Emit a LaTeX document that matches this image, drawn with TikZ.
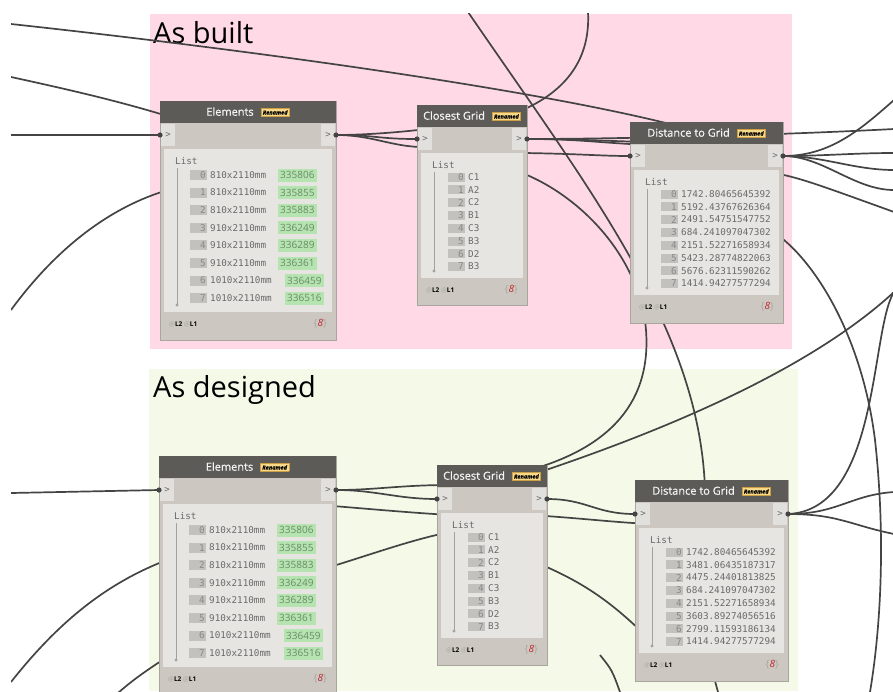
\documentclass[tikz,border=0pt]{standalone}
\usepackage{fontspec}
\setmainfont{Open Sans}
\newfontfamily\monof{DejaVu Sans Mono}
\newfontfamily\hdrf{Open Sans}[FakeBold=0.6]
\usetikzlibrary{calc}

\definecolor{pinkbg}{HTML}{FFDAE6}
\definecolor{greenbg}{HTML}{F5F9E8}
\definecolor{hdrc}{HTML}{5D5B58}
\definecolor{framec}{HTML}{CCC8C1}
\definecolor{framebd}{HTML}{A9A59F}
\definecolor{portc}{HTML}{E2E0DC}
\definecolor{panelc}{HTML}{E6E5E2}
\definecolor{idxc}{HTML}{C3C1BD}
\definecolor{idxtxt}{HTML}{8A8885}
\definecolor{valtxt}{HTML}{6A6A6A}
\definecolor{hilite}{HTML}{B6E4B0}
\definecolor{hilitetxt}{HTML}{6A8A66}
\definecolor{wirec}{HTML}{444444}
\definecolor{badgec}{HTML}{F8D98A}
\definecolor{badgebd}{HTML}{CC9F45}
\definecolor{cntred}{HTML}{C1272D}
\definecolor{footgray}{HTML}{A9A6A2}
\definecolor{hdrtxt}{HTML}{F4F4F4}
\definecolor{porttxt}{HTML}{6A6A6A}
\definecolor{listrulec}{HTML}{A3A19D}

\pgfdeclarelayer{back}
\pgfdeclarelayer{wirelayer}
\pgfsetlayers{back,wirelayer,main}

\newcommand\renamedbadge{\raisebox{0.2ex}{\setlength\fboxsep{1.6pt}\setlength\fboxrule{0.5pt}%
  \fcolorbox{badgebd}{badgec}{\fontsize{5.6}{5.6}\selectfont\bfseries\itshape\color{black}Renamed}}}

\tikzset{
  wire/.style={draw=wirec, line width=1.7pt},
  nodeframe/.style={draw=framebd, fill=framec, line width=0.8pt, inner sep=0pt, outer sep=0pt},
  hdrtext/.style={text=hdrtxt, font=\hdrf\fontsize{11}{12}\selectfont, inner sep=0pt},
  porttext/.style={text=porttxt, font=\monof\fontsize{9}{9}\selectfont, inner sep=0pt},
  listtext/.style={text=valtxt, font=\monof\fontsize{9.3}{10}\selectfont, inner sep=0pt},
  idxtext/.style={text=idxtxt, font=\monof\fontsize{9.3}{10}\selectfont, inner sep=0pt},
  hltext/.style={fill=hilite, text=hilitetxt, font=\fontsize{10}{11}\selectfont, inner xsep=2pt, inner ysep=0pt, minimum height=13pt},
  foottext/.style={inner sep=0pt, font=\fontsize{6.5}{7}\selectfont},
  cnttext/.style={inner sep=0pt, font=\fontsize{10}{11}\selectfont},
  grouptitle/.style={inner sep=0pt, font=\fontsize{29}{30}\selectfont, text=black},
  listrule/.style={draw=listrulec, line width=0.8pt},
  portdot/.style={fill=wirec},
}

% node skeleton: name, x, y, width, height, panel bottom, title
\newcommand\dynframe[7]{%
  \node[nodeframe, minimum width=#4pt, minimum height=#5pt, anchor=north west] (#1) at (#2,#3) {};
  \fill[hdrc] (#2,#3) rectangle ++(#4,22);
  \fill[portc] ({#2+1},{#3+23}) rectangle ++(14,22);
  \fill[portc] ({#2+#4-15},{#3+23}) rectangle ++(14,22);
  \node[porttext] at ({#2+8},{#3+34}) {>};
  \node[porttext] at ({#2+#4-8},{#3+34}) {>};
  \fill[panelc] ({#2+4},{#3+48}) rectangle ({#2+#4-4},#6);
  \draw[listrule] ({#2+17},{#3+67}) -- ({#2+17},{#6-7});
  \fill[listrulec] ({#2+17},{#6-7}) circle (1.6);
  \node[listtext, anchor=west] at ({#2+15},{#3+60}) {List};
  \node[hdrtext] at ({#2+#4/2},{#3+11}) {#7\hspace{7pt}\renamedbadge};
  \node[foottext, anchor=west] at ({#2+9},{#6+12}) {\textcolor{footgray}{@}\textbf{L2} \textcolor{footgray}{@}\textbf{L1}};
  \node[cnttext, anchor=east] at ({#2+#4-9},{#6+12}) {\textcolor{footgray}{\{}\textcolor{cntred}{\itshape 8}\textcolor{footgray}{\}}};
  \coordinate (#1-in) at (#2,{#3+34});
  \coordinate (#1-out) at ({#2+#4},{#3+34});
}

% element list rows with id highlights
\newcommand\elemrows[2]{%
  \foreach \k/\lbl/\val/\dx in {0/810x2110mm/335806/0,1/810x2110mm/335855/0,2/810x2110mm/335883/0,3/910x2110mm/336249/0,4/910x2110mm/336289/0,5/910x2110mm/336361/0,6/1010x2110mm/336459/7,7/1010x2110mm/336516/7}{
    \fill[idxc] ({#1+30},{#2+69+\k*17.6}) rectangle ++(17,10);
    \node[idxtext, anchor=east] at ({#1+46},{#2+74+\k*17.6}) {\k};
    \node[listtext, anchor=west] at ({#1+50},{#2+74+\k*17.6}) {\lbl};
    \node[hltext, anchor=west] at ({#1+118+\dx},{#2+74+\k*17.6}) {\val};
  }
}

% plain list rows
\newcommand\shortrows[3]{%
  \foreach \k/\val in {#3}{
    \fill[idxc] ({#1+31},{#2+67.5+\k*12.8}) rectangle ++(17,9);
    \node[idxtext, anchor=east] at ({#1+47},{#2+72+\k*12.8}) {\k};
    \node[listtext, anchor=west] at ({#1+51},{#2+72+\k*12.8}) {\val};
  }
}

\begin{document}
\begin{tikzpicture}[x=1pt,y=-1pt]
\useasboundingbox (0,0) rectangle (893,691);

% groups
\begin{pgfonlayer}{back}
  \fill[white] (0,0) rectangle (893,691);
  \fill[pinkbg] (150,14) rectangle (792,349);
  \fill[greenbg] (149,369) rectangle (798,691);
  \node[grouptitle, anchor=base west] (built) at (153,43) {As built};
  \node[grouptitle, anchor=base west] (designed) at (153,397) {As designed};
\end{pgfonlayer}

% as built
\dynframe{e1}{160}{101}{176}{239}{312}{Elements}
\elemrows{160}{101}
\dynframe{c1}{417}{105}{110}{200}{278}{Closest Grid}
\shortrows{417}{105}{0/C1,1/A2,2/C2,3/B1,4/C3,5/B3,6/D2,7/B3}
\dynframe{d1}{630}{122}{153}{201}{295}{Distance to Grid}
\shortrows{630}{122}{0/1742.80465645392,1/5192.43767626364,2/2491.54751547752,3/684.241097047302,4/2151.52271658934,5/5423.28774822063,6/5676.62311590262,7/1414.94277577294}

% as designed
\dynframe{e2}{159}{456}{177}{245}{667}{Elements}
\elemrows{159}{456}
\dynframe{c2}{437}{465}{110}{200}{638}{Closest Grid}
\shortrows{437}{465}{0/C1,1/A2,2/C2,3/B1,4/C3,5/B3,6/D2,7/B3}
\dynframe{d2}{635}{480}{153}{201}{653}{Distance to Grid}
\shortrows{635}{480}{0/1742.80465645392,1/3481.06435187317,2/4475.24401813825,3/684.241097047302,4/2151.52271658934,5/3603.89274056516,6/2799.11593186134,7/1414.94277577294}

% wires
\begin{pgfonlayer}{wirelayer}
\begin{scope}
  \clip (11,13) rectangle (893,691);
  \coordinate (l1) at (11,24);
  \coordinate (l2) at (11,77);
  \coordinate (l3) at (11,135);
  \coordinate (l4) at (11,310);
  \coordinate (l5) at (11,493);
  \coordinate (l6) at (11,682);
  \coordinate (l7) at (118,693);
  \coordinate (t1) at (468,12);
  \coordinate (t2) at (588,12);
  \coordinate (r1) at (894,129);
  \coordinate (r2) at (894,100);
  \coordinate (r3) at (894,153);
  \coordinate (r4) at (894,170);
  \coordinate (r5) at (894,190);
  \coordinate (r6) at (894,212);
  \coordinate (r7) at (894,292);
  \coordinate (b1) at (870,692);
  \coordinate (b2) at (718,692);
  \coordinate (b3) at (620,692);
  \coordinate (r8) at (894,492);
  \coordinate (r9) at (894,534);

  % from the left edge
  \draw[wire] (l1) .. controls (250,50) and (560,92) .. (700,132);
  \draw[wire] (l2) .. controls (80,92) and (130,104) .. (180,120);
  \draw[wire] (l3) -- (e1-in);
  \draw[wire] (l4) .. controls (55,250) and (110,205) .. (175,188);
  \draw[wire] (l5) -- (e2-in);
  \draw[wire] (l6) .. controls (60,620) and (110,580) .. (175,557);
  \draw[wire] (l7) .. controls (135,678) and (150,668) .. (175,652);

  % as built chain
  \draw[wire] (e1-out) .. controls +(40,0) and +(-40,0) .. (c1-in);
  \draw[wire] (e1-out) .. controls +(44,0) and (470,128) .. (527,108) .. controls (575,85) and (590,50) .. (t2);
  \draw[wire] (e1-out) .. controls +(35,0) and (390,146) .. (420,147) -- (525,153) .. controls (585,154) and (600,156) .. (d1-in);
  \draw[wire] (470,160) .. controls (500,165) .. (527,175) .. controls (585,200) and (640,260) .. (646,330) .. controls (652,410) and (600,450) .. (530,470);
  \draw[wire] (t1) .. controls (590,190) and (700,330) .. (705,490);
  \draw[wire] (c1-out) .. controls (600,139) and (760,136) .. (r1);
  \draw[wire] (c1-out) .. controls (580,139) and (600,141) .. (650,142);
  \draw[wire] (c1-out) .. controls (580,139) and (600,143) .. (650,145);
  \draw[wire] (d1-out) .. controls (830,156) and (860,130) .. (r2);
  \draw[wire] (d1-out) .. controls +(40,0) and +(-40,0) .. (r3);
  \draw[wire] (d1-out) .. controls +(40,0) and +(-40,0) .. (r4);
  \draw[wire] (d1-out) .. controls +(40,0) and +(-40,0) .. (r5);
  \draw[wire] (760,170) .. controls (800,178) .. (r6);
  \draw[wire] (760,225) .. controls (800,240) and (860,320) .. (875,440) .. controls (885,530) and (882,620) .. (b1);

  % as designed chain
  \draw[wire] (r7) .. controls (815,365) and (680,425) .. (540,472);
  \draw[wire] (r7) .. controls (870,330) and (880,510) .. (d2-out);
  \draw[wire] (d2-out) .. controls +(50,0) and (850,495) .. (r8);
  \draw[wire] (d2-out) .. controls +(50,0) and (850,525) .. (r9);
  \draw[wire] (e2-out) .. controls +(40,0) and +(-40,0) .. (c2-in);
  \draw[wire] (e2-out) .. controls +(40,0) and (400,485) .. (450,485);
  \draw[wire] (320,505) .. controls (360,508) and (400,512) .. (450,515);
  \draw[wire] (320,570) .. controls (370,555) and (410,540) .. (450,532);
  \draw[wire] (c2-out) .. controls +(40,0) and +(-40,0) .. (d2-in);
  \draw[wire] (530,515) .. controls (580,518) and (610,522) .. (650,524);
  \draw[wire] (530,560) .. controls (580,580) and (610,600) .. (650,640);
  \draw[wire] (712,670) -- (b2);
  \draw[wire] (600,655) .. controls (612,670) .. (b3);
\end{scope}
\end{pgfonlayer}

% port dots
\foreach \p in {e1-in,e1-out,c1-in,c1-out,d1-in,d1-out,e2-in,e2-out,c2-in,c2-out,d2-in,d2-out}{
  \fill[portdot] (\p) circle (2.6);
}
\end{tikzpicture}
\end{document}
